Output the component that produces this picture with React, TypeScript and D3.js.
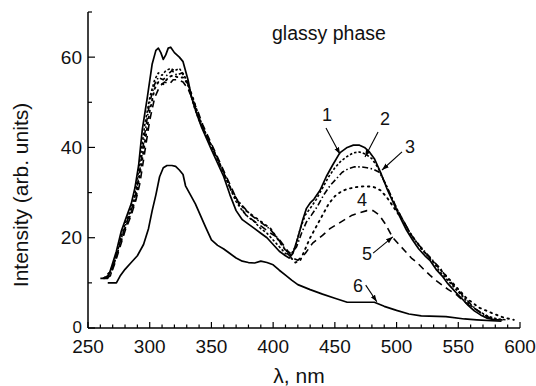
import React from "react";
import * as d3 from "d3";

type P = [number, number];

const xTicks = [250, 300, 350, 400, 450, 500, 550, 600];
const yTicks = [0, 20, 40, 60];

const curve1: P[] = [[260,11],[266,11],[269,13.5],[273,17],[277,21.5],[281,24.5],[285,27.5],[288,31],[291,36],[294,44],[298,51],[302,58.5],[305,61.5],[307,62],[309,61],[311,59.5],[313,60.5],[315,62],[317,62.2],[320,61],[324,60],[327,59],[331,55],[334,51],[338,47.5],[342,44.5],[346,42],[350,39.5],[355,36.5],[360,33.5],[365,29.5],[370,26],[375,24],[380,23],[385,22],[390,21],[395,20],[400,18.5],[405,17],[410,16],[413,15.5],[416,16.5],[420,20],[424,24],[427,26.5],[430,27.7],[433,28.5],[438,30.5],[443,33.5],[448,36],[454,38.8],[460,40],[465,40.5],[470,40.5],[474,40],[478,39],[482,37.5],[487,34.5],[492,31],[497,28],[502,25],[508,21.7],[513,19.5],[518,17.5],[523,16],[527,15],[532,13],[537,11.5],[541,10],[546,8.5],[550,7.3],[554,6.2],[558,5],[563,3.8],[568,2.9],[573,2.2],[580,1.8],[586,1.8]];

const curve2: P[] = [[262,11],[268,11.5],[272,15],[276,19.5],[280,23],[285,26.5],[289,31],[292,37],[296,45],[300,51],[304,55],[307,56.5],[310,56],[313,57],[317,57.5],[320,57],[324,57.5],[328,56],[332,53],[336,49],[340,46],[345,43],[350,40.5],[355,37.5],[360,34.5],[365,31],[370,28],[375,26],[380,24.5],[385,23.5],[390,22],[395,21],[400,19.5],[405,18],[410,16.5],[414,16],[418,18],[422,22],[426,25],[430,26.5],[435,28.5],[440,31],[445,33.5],[450,35.5],[455,37],[460,38],[465,38.8],[470,39],[475,38.5],[480,37.5],[485,35.5],[490,32.5],[495,29.5],[500,26.5],[505,24],[510,21.5],[515,19.5],[520,17.5],[525,16],[530,14.5],[535,12.5],[540,11],[545,9.5],[550,8],[555,6.5],[560,5],[565,4],[570,3.2],[575,2.5],[582,2],[590,1.8]];

const curve3: P[] = [[263,11],[268,12],[272,15.5],[276,19],[280,22.5],[285,26],[289,30],[292,35],[296,43],[300,50],[304,54],[307,55.5],[311,55],[314,56],[318,57],[322,56],[326,56.5],[330,55],[334,51],[338,48],[342,45],[347,42],[352,39],[357,36],[362,33],[367,30],[372,28],[377,26.5],[382,25],[387,24],[392,23],[397,22],[402,20.5],[407,18.5],[411,17],[415,16.5],[419,18],[423,21],[427,23.5],[431,25],[436,27],[441,29.5],[446,31.5],[451,33],[456,34.5],[461,35.3],[466,35.7],[471,35.7],[476,35.5],[481,35.2],[486,34.5],[491,32],[496,29],[501,26],[506,23.5],[511,21],[516,19],[521,17.5],[526,16],[531,14.5],[536,13],[541,11],[546,9.5],[551,8],[556,6.5],[561,5],[566,3.8],[571,2.8],[576,2.2],[583,1.8]];

const curve4: P[] = [[263,11],[268,12.5],[272,15],[276,18.5],[280,22],[285,25.5],[289,29],[292,34],[296,41],[300,48],[304,53],[307,54.5],[311,54],[315,55.5],[319,56],[323,55.5],[327,55.5],[331,54],[335,51],[339,47.5],[343,44.5],[348,41.5],[353,38.5],[358,35.5],[363,32.5],[368,29.5],[373,27.5],[378,26],[383,25],[388,24],[393,23],[398,22],[403,20],[408,18],[413,16],[418,14.5],[422,15],[426,17.5],[430,20],[435,22.5],[440,25],[445,27.5],[450,29.2],[455,30.2],[460,30.8],[467,31.2],[474,31.4],[481,31.3],[487,30.5],[492,29],[497,27],[502,25],[507,23],[512,20.5],[517,18.8],[522,17],[527,15.5],[532,14],[537,12.5],[542,11],[547,9.5],[552,8],[557,6.5],[562,5.5],[567,4.5],[573,3.8],[580,3],[587,2.3],[595,1.8]];

const curve5: P[] = [[264,11],[268,11.5],[272,14.5],[276,18],[280,21.5],[285,25],[289,28.5],[292,32],[296,39],[300,46],[304,51],[308,53.5],[312,54.5],[316,54],[319,55],[323,55],[327,54.5],[331,53],[335,50.5],[339,48],[343,45],[348,42],[353,39],[358,36],[363,33],[368,30],[373,27],[378,25],[383,24],[388,23],[393,22],[398,21],[404,20],[408,18.5],[412,17],[416,15.5],[420,15],[426,16.5],[432,18.8],[440,20.5],[446,22],[452,23],[458,24],[464,25],[470,25.5],[476,26],[481,26],[486,25],[491,23],[497,20],[502,18.5],[507,17],[512,15.5],[517,14.4],[522,13],[527,11.7],[532,10.5],[537,9.5],[542,8.5],[549,7.3],[554,6],[559,5],[565,4],[570,3],[575,2.3],[580,2]];

const curve6: P[] = [[266,10],[273,10],[276,11.5],[280,13],[285,14.5],[290,16],[295,18.5],[299,22],[302,26],[305,29.5],[308,33.5],[311,35.5],[314,36],[318,36],[321,35.8],[324,35],[327,34],[329,31.5],[333,29.5],[337,27.5],[341,25],[345,22.5],[350,19.5],[355,18.3],[360,17.5],[365,16.5],[370,15.5],[375,14.8],[380,14.5],[385,14.4],[390,14.8],[395,14.5],[400,14],[405,12.8],[410,11.7],[415,10.6],[420,9.6],[430,8.5],[440,7.5],[450,6.6],[460,5.7],[482,5.7],[490,4.8],[500,3.9],[510,3.1],[520,2.7],[540,2.5],[555,2],[565,1.8],[585,1.5]];

const seriesStyles = [
  { data: curve1, dash: "none", width: 1.7 },
  { data: curve2, dash: "2.5,2", width: 1.6 },
  { data: curve3, dash: "6,2.5,1.5,2.5", width: 1.6 },
  { data: curve4, dash: "1.5,4.5", width: 1.9 },
  { data: curve5, dash: "7,5", width: 1.6 },
  { data: curve6, dash: "none", width: 1.7 },
];

// labels: text, label position, arrow start and tip (data coordinates)
const labelText = ["1", "2", "3", "4", "5", "6"];
const labelPos: P[] = [[443.6, 47.2], [490.6, 46.5], [510.9, 40.1], [472, 28.4], [476, 16.6], [468.7, 9.5]];
const arrowFrom: (P | null)[] = [[442.8, 44.3], [485, 43.4], [504.4, 39], null, [481, 16.6], [475, 9.5]];
const arrowTip: (P | null)[] = [[454.2, 38.5], [474.4, 37.9], [488.2, 35], null, [497, 20.2], [484, 5.8]];

const W = 536, H = 386;
const x = d3.scaleLinear().domain([250, 600]).range([88, 520]);
const y = d3.scaleLinear().domain([0, 70]).range([328, 12]);
const font = "'Liberation Sans', Arial, Helvetica, sans-serif";

export default function App() {
  const line = d3.line<P>().x(d => x(d[0])).y(d => y(d[1]));
  const minorX = d3.range(250, 601, 10);
  const minorY = d3.range(0, 71, 10);
  return (
    <svg width={W} height={H} style={{ position: "absolute", left: 0, top: 0, background: "#fff" }} fontFamily={font}>
      <defs>
        <marker id="ah" viewBox="0 0 10 10" refX="10" refY="5" markerWidth="7" markerHeight="7" orient="auto" markerUnits="userSpaceOnUse">
          <path d="M0,1.5 L10,5 L0,8.5 Z" fill="#000" />
        </marker>
      </defs>
      <line x1={x(250)} x2={x(600)} y1={y(0)} y2={y(0)} stroke="#000" strokeWidth={1.5} />
      <line x1={x(250)} x2={x(250)} y1={y(0)} y2={y(70)} stroke="#000" strokeWidth={1.5} />
      {minorX.map(v => (
        <line key={"mx" + v} x1={x(v)} x2={x(v)} y1={y(0)} y2={y(0) - (v % 50 === 0 ? 6 : 3.5)} stroke="#000" strokeWidth={1.2} />
      ))}
      {minorY.map(v => (
        <line key={"my" + v} x1={x(250)} x2={x(250) + (v % 20 === 0 ? 7 : 4)} y1={y(v)} y2={y(v)} stroke="#000" strokeWidth={1.2} />
      ))}
      {xTicks.map(v => (
        <text key={"xt" + v} x={x(v)} y={353} fontSize={19} textAnchor="middle" fill="#111">{v}</text>
      ))}
      {yTicks.map(v => (
        <text key={"yt" + v} x={82} y={y(v) + (v === 0 ? 5 : 6.5)} fontSize={v === 0 ? 17 : 19} textAnchor="end" fill="#111">{v}</text>
      ))}
      <text transform={`translate(28,195) rotate(-90)`} fontSize={21} textAnchor="middle" fill="#111">Intensity (arb. units)</text>
      <text x={299} y={383} fontSize={21} textAnchor="middle" fill="#111">λ, nm</text>
      <text x={272} y={40} fontSize={19.5} fill="#111">glassy phase</text>
      {seriesStyles.map((s, i) => (
        <path key={"c" + i} d={line(s.data) || ""} fill="none" stroke="#000" strokeWidth={s.width}
          strokeDasharray={s.dash === "none" ? undefined : s.dash} strokeLinecap={i === 3 ? "round" : "butt"} strokeLinejoin="round" />
      ))}
      {labelText.map((t, i) => (
        <g key={"l" + i}>
          <text x={x(labelPos[i][0])} y={y(labelPos[i][1]) + 6.5} fontSize={18} textAnchor="middle" fill="#111">{t}</text>
          {arrowFrom[i] && arrowTip[i] && (
            <line x1={x(arrowFrom[i]![0])} y1={y(arrowFrom[i]![1])} x2={x(arrowTip[i]![0])} y2={y(arrowTip[i]![1])}
              stroke="#000" strokeWidth={1.1} markerEnd="url(#ah)" />
          )}
        </g>
      ))}
    </svg>
  );
}
